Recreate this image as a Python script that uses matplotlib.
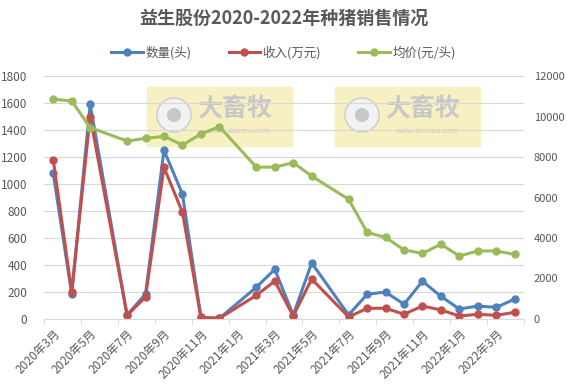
import matplotlib
matplotlib.use("Agg")
import matplotlib.pyplot as plt
from matplotlib.patches import Rectangle, Ellipse

plt.rcParams['font.family'] = ['Noto Sans CJK SC', 'DejaVu Sans']

# 月份序号: 0 = 2020年3月
months = [0, 1, 2, 4, 5, 6, 7, 8, 9, 11, 12, 13, 14, 16, 17, 18, 19, 20, 21, 22, 23, 24, 25]
tick_labels = ["2020年3月", "2020年5月", "2020年7月", "2020年9月", "2020年11月",
               "2021年1月", "2021年3月", "2021年5月", "2021年7月", "2021年9月",
               "2021年11月", "2022年1月", "2022年3月"]

qty = [1080, 185, 1590, 30, 185, 1250, 925, 12, 5, 235, 368, 30, 415,
       30, 183, 200, 109, 280, 168, 74, 96, 86, 148]
income = [1180, 200, 1500, 27, 163, 1123, 790, 12, 5, 175, 281, 22, 296,
          15, 79, 80, 35, 96, 67, 22, 35, 27, 50]
price = [10850, 10770, 9450, 8790, 8920, 9020, 8590, 9135, 9500, 7500, 7500, 7720, 7060,
         5910, 4280, 4030, 3410, 3240, 3690, 3110, 3360, 3360, 3190]

blue = "#4F81BD"
red = "#C0504D"
green = "#9BBB59"
gray = "#595959"

W, H = 567, 392
fig = plt.figure(figsize=(W / 100, H / 100), dpi=100)
ax = fig.add_axes([44 / W, 1 - 319 / H, 480 / W, 243 / H])
ax2 = ax.twinx()

# 水印
for x0 in (147, 335):
    fig.patches.append(Rectangle((x0 / W, 1 - 146 / H), 145 / W, 59 / H,
                                 transform=fig.transFigure, color="#F7F0C0", zorder=0))
    cx, cy = (x0 + 27) / W, 1 - 115 / H
    fig.patches.append(Ellipse((cx, cy), 34 / W, 34 / H, transform=fig.transFigure,
                               facecolor="#F2F2F2", edgecolor="#D0D0D0", lw=1.2, zorder=1))
    fig.patches.append(Ellipse((cx, cy), 14 / W, 14 / H, transform=fig.transFigure,
                               facecolor="#C8C8C8", edgecolor="none", zorder=1))
    fig.text((x0 + 50) / W, 1 - 109 / H, "大畜牧", fontsize=18, fontweight="bold",
             color="#C8C8C8", va="center", ha="left", zorder=1)
    fig.text((x0 + 92) / W, 1 - 131 / H, "www.dxumu.com", fontsize=5.5,
             color="#C8C8C8", va="center", ha="center", zorder=1)
ax.set_zorder(2)
ax2.set_zorder(3)
ax.patch.set_visible(False)

l1, = ax.plot(months, qty, color=blue, lw=2.2, marker="o", ms=5, label="数量(头)")
l2, = ax.plot(months, income, color=red, lw=2.2, marker="o", ms=5, label="收入(万元)")
l3, = ax2.plot(months, price, color=green, lw=2.2, marker="o", ms=5, label="均价(元/头)")

ax.set_xlim(-0.5, 25.5)
ax.set_ylim(0, 1800)
ax2.set_ylim(0, 12000)
ax.set_yticks(range(0, 1801, 200))
ax2.set_yticks(range(0, 12001, 2000))
ax.grid(axis="y", color="#D9D9D9", lw=0.8)
ax.set_axisbelow(True)

ax.set_xticks(range(0, 25, 2))
ax.set_xticklabels(tick_labels, rotation=45, ha="right", rotation_mode="anchor")
ax.set_xticks([i - 0.5 for i in range(0, 27, 2)], minor=True)
ax.tick_params(axis="x", which="major", length=0, pad=6)
ax.tick_params(axis="x", which="minor", length=4, color="#D9D9D9")

for a in (ax, ax2):
    for s in a.spines.values():
        s.set_visible(False)
    a.tick_params(axis="y", length=0, labelsize=8.5, labelcolor=gray)
ax.spines["bottom"].set_visible(True)
ax.spines["bottom"].set_color("#D9D9D9")
ax.tick_params(axis="x", labelsize=8.5, labelcolor=gray)
ax.tick_params(axis="y", pad=12)
ax2.tick_params(axis="y", pad=7, labelsize=8)

fig.text(0.5, 1 - 18 / H, "益生股份2020-2022年种猪销售情况", ha="center", va="center",
         fontsize=13, fontweight="bold", color=gray)
fig.legend(handles=[l1, l2, l3], loc="center", bbox_to_anchor=(0.5, 1 - 53 / H),
           ncol=3, frameon=False, fontsize=9, labelcolor=gray,
           handlelength=2.5, columnspacing=3, handletextpad=0.2)

fig.savefig("out.png", dpi=100)
